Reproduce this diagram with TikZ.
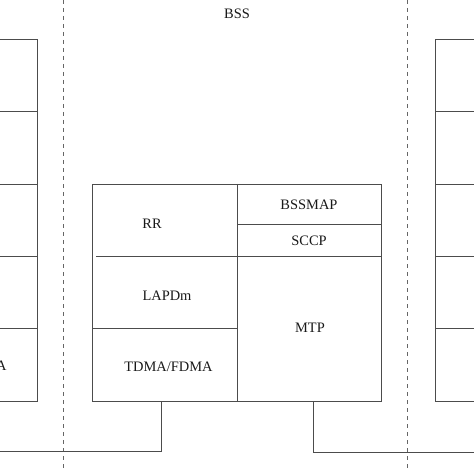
\documentclass[tikz,border=0pt]{standalone}
\usepackage{fontspec}
\setmainfont{Liberation Serif}
\begin{document}
\begin{tikzpicture}[x=1bp,y=-1bp,
  ln/.style={draw=black!70,line width=0.9bp},
  cell/.style={ln,rectangle,inner sep=0pt,outer sep=0pt,anchor=north west},
  lbl/.style={inner sep=0pt,font=\fontsize{14.5}{17}\selectfont,text=black!90},
  sep/.style={draw=black!60,line width=0.8bp,dash pattern=on 4bp off 4bp}]
\useasboundingbox (0,0) rectangle (474,474);
\clip (0,0) rectangle (474,474);
% dashed separators
\coordinate (d1t) at (63,0);  \coordinate (d1b) at (63,472);
\coordinate (d2t) at (407,0); \coordinate (d2b) at (407,472);
\draw[sep] (d1t) -- (d1b);
\draw[sep] (d2t) -- (d2b);
\node[lbl] (bss) at (237,14) {BSS};
% left stack
\node[cell,minimum width=150bp,minimum height=361.7bp] (L) at (-112.3,39.3) {};
\foreach \y in {111.7,184,256.3,328.7}
  \draw[ln] (L.west |- 0,\y) -- (L.east |- 0,\y);
\node[lbl] (lt) at (-37.5,366) {TDMA/FDMA};
% right stack
\node[cell,minimum width=150bp,minimum height=361.7bp] (R) at (435.7,39.3) {};
\foreach \y in {111.7,184,256.3,328.7}
  \draw[ln] (R.west |- 0,\y) -- (R.east |- 0,\y);
% middle box
\node[cell,minimum width=289.3bp,minimum height=217bp] (mid) at (92,184) {};
\coordinate (vt) at (237,184); \coordinate (vb) at (237,401);
\draw[ln] (vt) -- (vb);
\coordinate (h1a) at (96,256.3); \coordinate (h1b) at (237,256.3);
\draw[ln] (h1a) -- (h1b);
\coordinate (h2a) at (92,328.7); \coordinate (h2b) at (237,328.7);
\draw[ln] (h2a) -- (h2b);
\coordinate (h3a) at (237,224); \coordinate (h3b) at (381.3,224);
\draw[ln] (h3a) -- (h3b);
\coordinate (h4a) at (237,256.3); \coordinate (h4b) at (381.3,256.3);
\draw[ln] (h4a) -- (h4b);
\node[lbl] (rr) at (152,224) {RR};
\node[lbl] (lapdm) at (167,296) {LAPDm};
\node[lbl] (tdma) at (168.5,366.5) {TDMA/FDMA};
\node[lbl] (bssmap) at (309,205) {BSSMAP};
\node[lbl] (sccp) at (309,241) {SCCP};
\node[lbl] (mtp) at (310,328) {MTP};
% connectors
\coordinate (lc) at (161,401); \coordinate (le) at (-5,451.5);
\draw[ln] (lc) |- (le);
\coordinate (rc) at (313,401); \coordinate (re) at (480,452);
\draw[ln] (rc) |- (re);
\end{tikzpicture}
\end{document}
